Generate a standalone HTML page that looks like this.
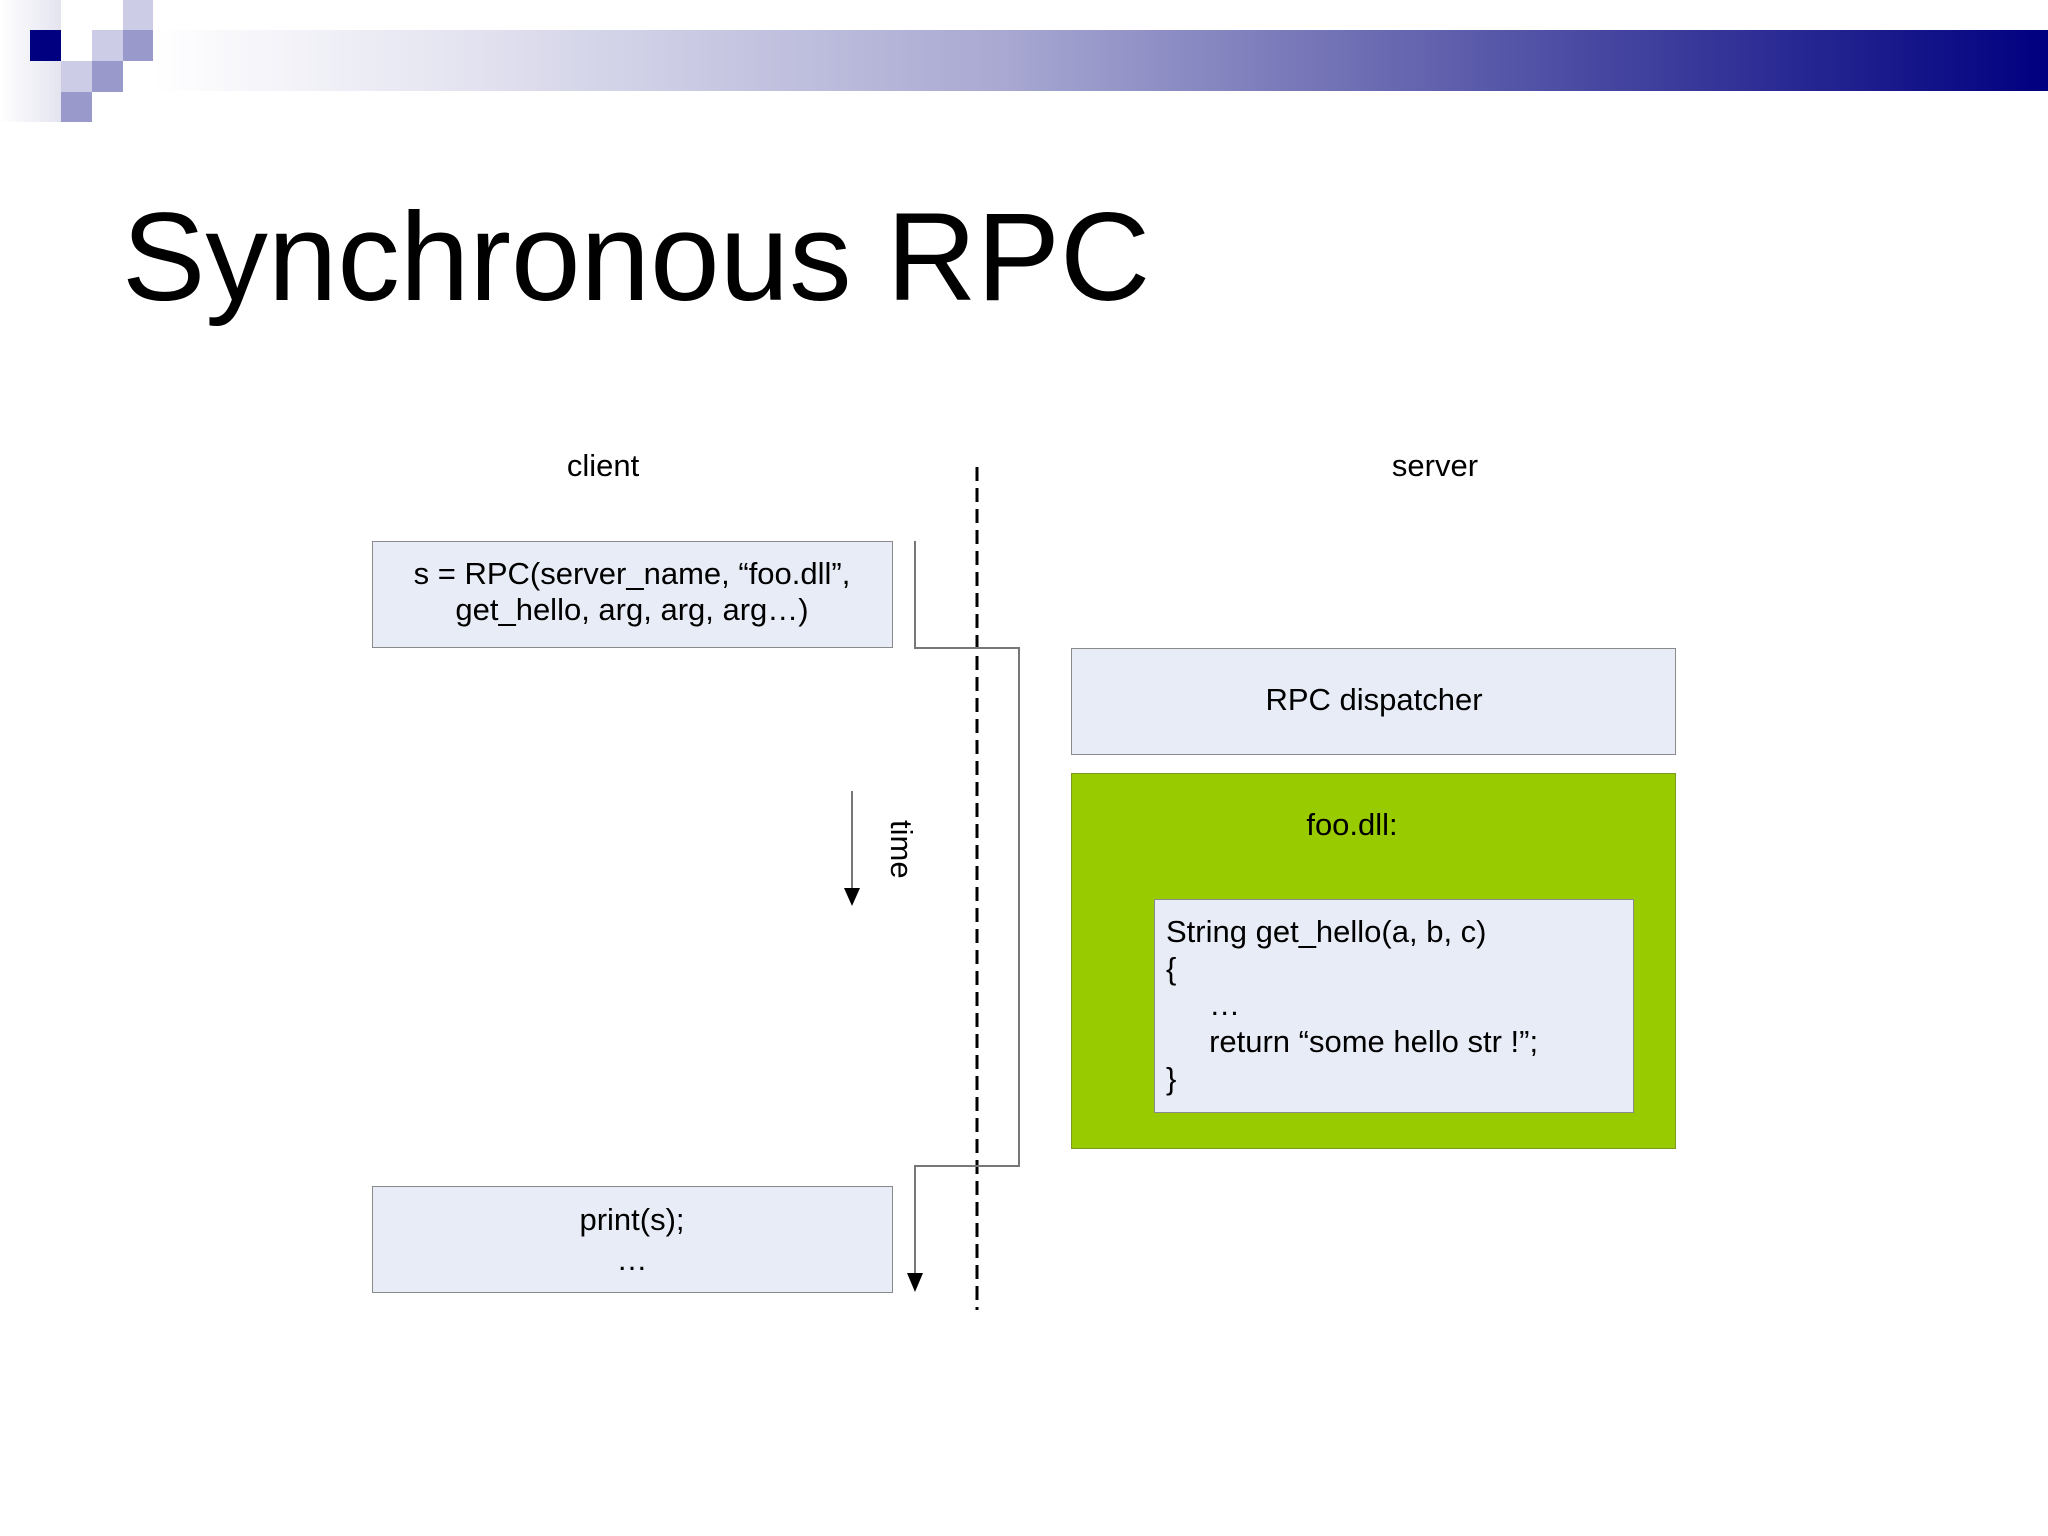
<!DOCTYPE html>
<html><head><meta charset="utf-8"><style>
body{margin:0;width:2048px;height:1536px;background:#fff;position:relative;overflow:hidden;font-family:"Liberation Sans",Arial,sans-serif;}
.a{position:absolute}
.box{position:absolute;background:#e8ecf6;border:1.5px solid #8a8a8a;box-sizing:border-box}
.t{position:absolute;font-size:31px;color:#000;white-space:nowrap}
</style></head><body>
<div class="a" style="left:0;top:0;width:61px;height:122px;background:linear-gradient(to right,#fff,#e4e4f0)"></div>
<div class="a" style="left:153px;top:30px;width:1895px;height:61px;background:linear-gradient(to right,#fff 0%,#e6e6f2 15%,#a8a8d2 45%,#5a5aaa 70%,#000080 100%)"></div>
<div class="a" style="left:30px;top:30px;width:31px;height:31px;background:#000080"></div>
<div class="a" style="left:123px;top:0;width:30px;height:30px;background:#ccccE6"></div>
<div class="a" style="left:92px;top:30px;width:31px;height:31px;background:#ccccE6"></div>
<div class="a" style="left:123px;top:30px;width:30px;height:31px;background:#9999cc"></div>
<div class="a" style="left:61px;top:61px;width:31px;height:31px;background:#ccccE6"></div>
<div class="a" style="left:92px;top:61px;width:31px;height:31px;background:#9999cc"></div>
<div class="a" style="left:61px;top:92px;width:31px;height:30px;background:#9999cc"></div>

<div class="t" style="left:122px;top:188px;font-size:125px;line-height:140px">Synchronous RPC</div>
<div class="t" style="left:603px;top:448px;transform:translateX(-50%)">client</div>
<div class="t" style="left:1435px;top:448px;transform:translateX(-50%)">server</div>

<div class="box" style="left:372px;top:541px;width:521px;height:107px"></div>
<div class="t" style="left:632px;top:556px;transform:translateX(-50%);text-align:center;line-height:36px">s = RPC(server_name, “foo.dll”,<br>get_hello, arg, arg, arg…)</div>

<div class="box" style="left:1071px;top:648px;width:605px;height:107px"></div>
<div class="t" style="left:1374px;top:682px;transform:translateX(-50%)">RPC dispatcher</div>

<div class="a" style="left:1071px;top:773px;width:605px;height:376px;background:#99cc00;border:1.5px solid #7a9a20;box-sizing:border-box"></div>
<div class="t" style="left:1352px;top:807px;transform:translateX(-50%)">foo.dll:</div>
<div class="box" style="left:1154px;top:899px;width:480px;height:214px"></div>
<div class="t" style="left:1166px;top:914px;line-height:36.7px">String get_hello(a, b, c)<br>{<br>&nbsp;&nbsp;&nbsp;&nbsp;&nbsp;…<br>&nbsp;&nbsp;&nbsp;&nbsp;&nbsp;return “some hello str !”;<br>}</div>

<div class="box" style="left:372px;top:1186px;width:521px;height:107px"></div>
<div class="t" style="left:632px;top:1200px;transform:translateX(-50%);text-align:center;line-height:40px">print(s);<br>…</div>

<svg class="a" style="left:0;top:0" width="2048" height="1536">
<line x1="977" y1="467" x2="977" y2="1310" stroke="#000" stroke-width="3" stroke-dasharray="14,7"/>
<polyline points="915,541 915,648 1019,648 1019,1166 915,1166 915,1275" fill="none" stroke="#777" stroke-width="2"/>
<polygon points="907,1273 923,1273 915,1292" fill="#000"/>
<line x1="852" y1="791" x2="852" y2="890" stroke="#777" stroke-width="2"/>
<polygon points="844,888 860,888 852,906" fill="#000"/>
<text x="0" y="0" transform="translate(891,820) rotate(90)" font-family="Liberation Sans,Arial,sans-serif" font-size="31">time</text>
</svg>
</body></html>
